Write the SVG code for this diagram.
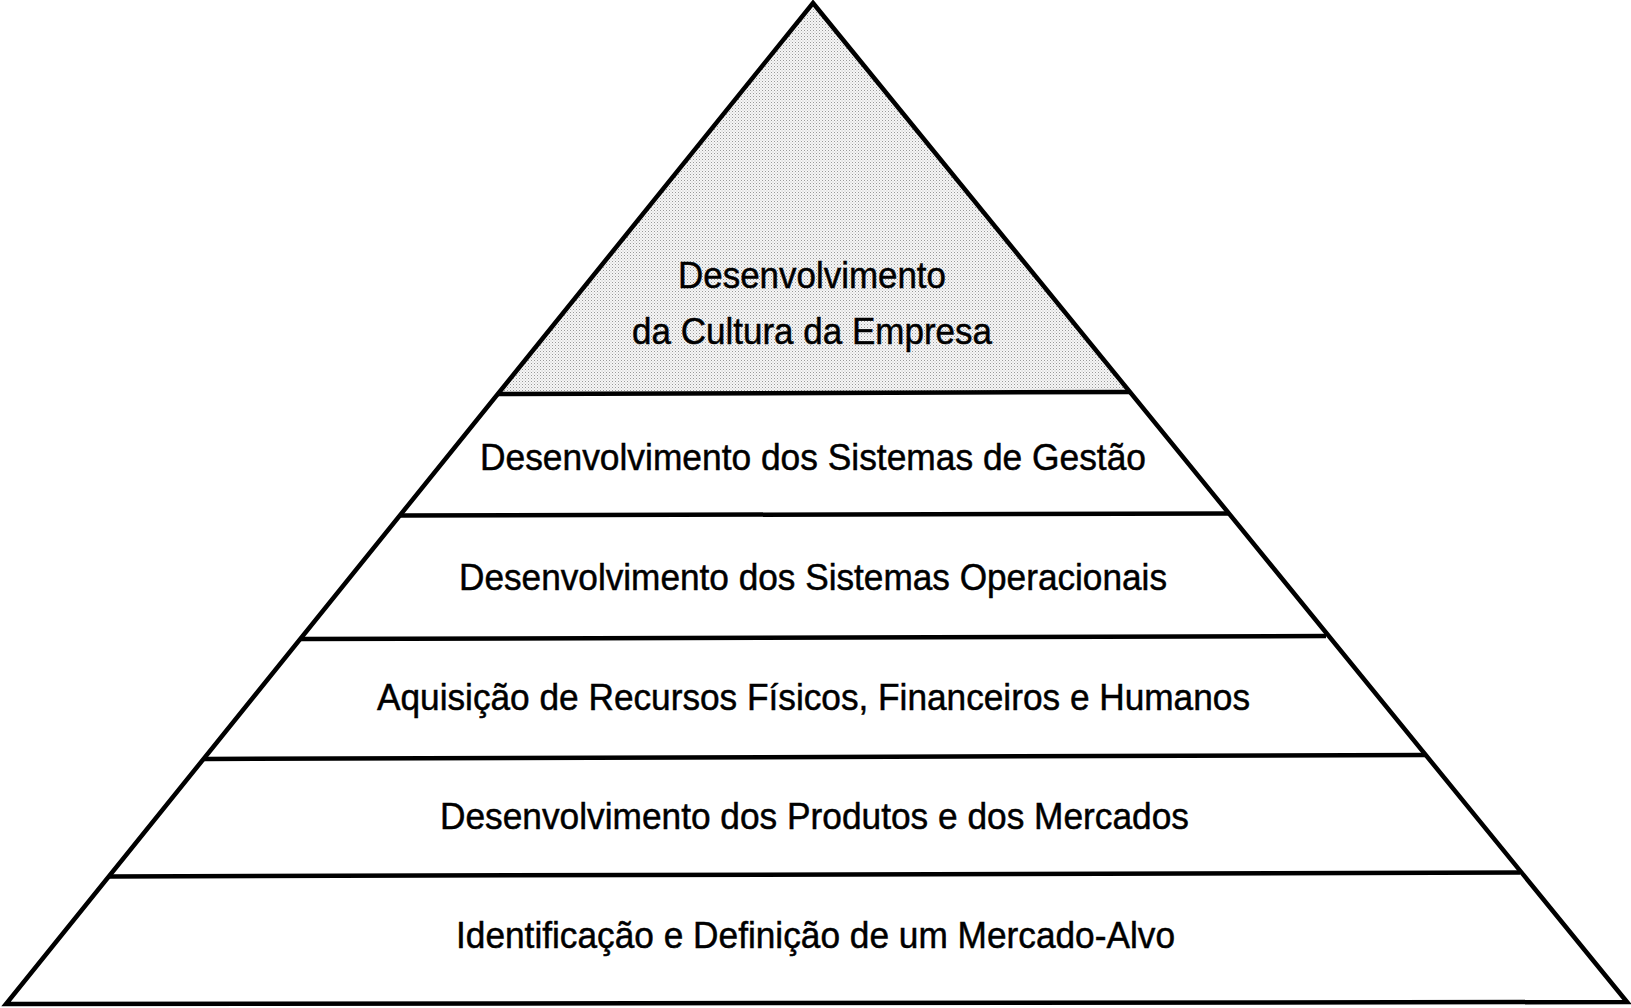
<svg xmlns="http://www.w3.org/2000/svg" width="1631" height="1008" viewBox="0 0 1631 1008">
<defs>
<pattern id="dots" width="3" height="3" patternUnits="userSpaceOnUse">
<rect width="3" height="3" fill="#f6f6f6"/>
<rect x="0" y="0" width="1" height="1" fill="#999"/>
<rect x="1.5" y="1.5" width="1" height="1" fill="#c0c0c0"/>
</pattern>
<style>
.edge{stroke:#000;stroke-width:4.5;fill:none;stroke-linejoin:miter}
.div{stroke:#000;stroke-width:4.5}
.lbl{font-family:"Liberation Sans",Arial,sans-serif;font-size:37px;fill:#000;stroke:#000;stroke-width:0.5;text-anchor:middle}
</style>
</defs>
<rect width="1631" height="1008" fill="#fff"/>
<g id="level6-top">
<polygon points="813,3 1130,392 497,394" fill="url(#dots)"/>
<text class="lbl" x="812" y="288" textLength="268" lengthAdjust="spacingAndGlyphs">Desenvolvimento</text>
<text class="lbl" x="812" y="344" textLength="360" lengthAdjust="spacingAndGlyphs">da Cultura da Empresa</text>
</g>
<g id="level5">
<text class="lbl" x="813" y="470" textLength="666" lengthAdjust="spacingAndGlyphs">Desenvolvimento dos Sistemas de Gestão</text>
</g>
<g id="level4">
<text class="lbl" x="813" y="590" textLength="708" lengthAdjust="spacingAndGlyphs">Desenvolvimento dos Sistemas Operacionais</text>
</g>
<g id="level3">
<text class="lbl" x="813.5" y="710" textLength="873" lengthAdjust="spacingAndGlyphs">Aquisição de Recursos Físicos, Financeiros e Humanos</text>
</g>
<g id="level2">
<text class="lbl" x="814.5" y="829" textLength="749" lengthAdjust="spacingAndGlyphs">Desenvolvimento dos Produtos e dos Mercados</text>
</g>
<g id="level1-base">
<text class="lbl" x="815.5" y="948" textLength="719" lengthAdjust="spacingAndGlyphs">Identificação e Definição de um Mercado-Alvo</text>
</g>
<g id="connectors">
<polygon class="edge" points="813,3 1627,1002 6,1004"/>
<line class="div" x1="497" y1="394" x2="1130" y2="392"/>
<line class="div" x1="400" y1="515.5" x2="1228" y2="513.5"/>
<line class="div" x1="301" y1="639" x2="1326" y2="636"/>
<line class="div" x1="204" y1="759" x2="1425" y2="755"/>
<line class="div" x1="109" y1="876.5" x2="1520" y2="872.5"/>
</g>
</svg>
